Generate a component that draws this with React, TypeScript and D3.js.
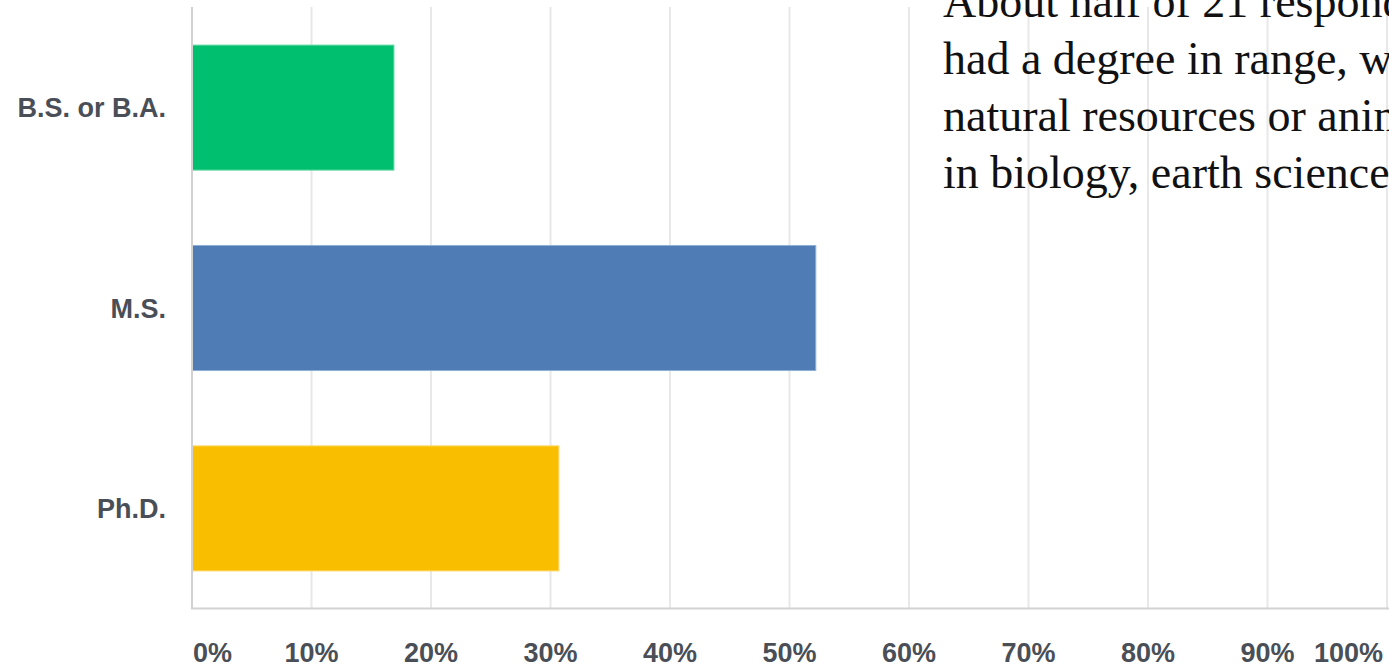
import React from "react";
import * as d3 from "d3";

const categories = ["B.S. or B.A.", "M.S.", "Ph.D."];
const values = [16.9, 52.2, 30.7];
const barColors = ["#00BF6F", "#507CB6", "#F9BE00"];
const barBorders = ["#6ad9a6", "#8fb0d6", "#fcd86a"];
const tickValues = [0, 10, 20, 30, 40, 50, 60, 70, 80, 90, 100];
const tickLabels = ["0%", "10%", "20%", "30%", "40%", "50%", "60%", "70%", "80%", "90%", "100%"];
const noteLines = [
  "About half of 21 respondents",
  "had a degree in range, wildlife,",
  "natural resources or animal science,",
  "in biology, earth science, or ecology.",
];

const W = 1389;
const H = 667;

export default function App() {
  const x = d3.scaleLinear().domain([0, 100]).range([192, 1387]);
  const y = d3
    .scaleBand<string>()
    .domain(categories)
    .range([7, 609])
    .paddingInner(0.376)
    .paddingOuter(0.19);
  const labelFont = "'Liberation Sans', Arial, sans-serif";
  const labelColor = "#4a4f57";

  return (
    <div style={{ position: "fixed", left: 0, top: 0, width: W, height: H, background: "#fff" }}>
      <svg width={W} height={H} style={{ display: "block" }}>
        <rect x={0} y={0} width={W} height={H} fill="#fff" />
        {/* grid lines */}
        {tickValues.slice(1).map((t) => (
          <line
            key={"g" + t}
            x1={x(t)}
            x2={x(t)}
            y1={7}
            y2={608}
            stroke="#e8e8e8"
            strokeWidth={2}
          />
        ))}
        {/* bars */}
        {categories.map((c, i) => (
          <rect
            key={c}
            x={x(0)}
            y={y(c)}
            width={x(values[i]) - x(0)}
            height={y.bandwidth()}
            fill={barColors[i]}
            stroke={barBorders[i]}
            strokeWidth={1}
          />
        ))}
        {/* axes */}
        <line x1={x(0)} x2={x(0)} y1={7} y2={609} stroke="#d2d2d2" strokeWidth={2} />
        <line x1={x(0) - 1} x2={W} y1={608.5} y2={608.5} stroke="#d2d2d2" strokeWidth={2} />
        {/* category labels */}
        {categories.map((c) => (
          <text
            key={"l" + c}
            x={166}
            y={(y(c) as number) + y.bandwidth() / 2 + 9.7}
            textAnchor="end"
            fontFamily={labelFont}
            fontWeight={700}
            fontSize={27}
            fill={labelColor}
          >
            {c}
          </text>
        ))}
        {/* tick labels */}
        {tickValues.map((t, i) => {
          const anchor = i === 0 ? "start" : i === tickValues.length - 1 ? "end" : "middle";
          const px = i === 0 ? x(t) + 1 : i === tickValues.length - 1 ? x(t) - 4 : x(t);
          return (
            <text
              key={"t" + t}
              x={px}
              y={662}
              textAnchor={anchor}
              fontFamily={labelFont}
              fontWeight={700}
              fontSize={27}
              fill={labelColor}
            >
              {tickLabels[i]}
            </text>
          );
        })}
        {/* annotation text */}
        {noteLines.map((line, i) => (
          <text
            key={"n" + i}
            x={943}
            y={16.5 + i * 57.2}
            fontFamily="'Liberation Serif', 'Times New Roman', serif"
            fontSize={46}
            fill="#111"
          >
            {line}
          </text>
        ))}
      </svg>
    </div>
  );
}
